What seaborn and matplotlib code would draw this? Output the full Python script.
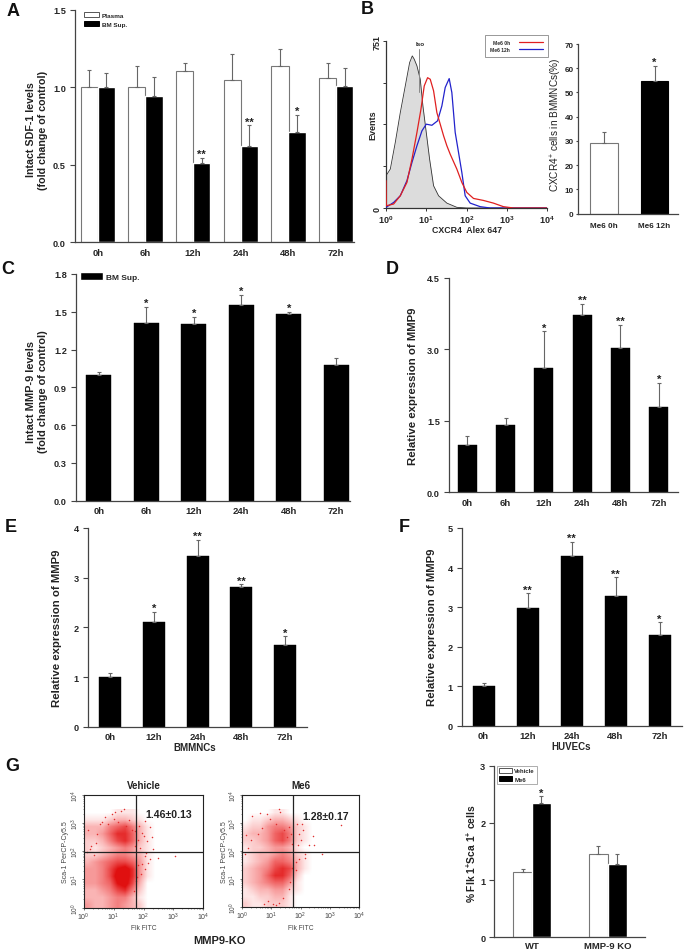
import numpy as np
import pandas as pd
import matplotlib
matplotlib.use('Agg')
import matplotlib.pyplot as plt
from matplotlib.colors import LinearSegmentedColormap
from matplotlib.lines import Line2D
from matplotlib.patches import Patch
import seaborn as sns

# panel A
hours_a = ['0h', '6h', '12h', '24h', '48h', '72h']
plasma = [1.0, 1.005, 1.105, 1.045, 1.14, 1.06]
plasma_sd = [0.11, 0.135, 0.055, 0.17, 0.11, 0.10]
bm_sup = [1.0, 0.945, 0.515, 0.62, 0.715, 1.01]
bm_sup_sd = [0.095, 0.125, 0.03, 0.135, 0.11, 0.115]
stars_a = ['', '', '**', '**', '*', '']

# panel B histogram, log10 of intensity against events
iso_log = [0, .107, .231, .355, .479, .587, .653, .702, .769, .851, .917, 1.0, 1.083, 1.182, 1.306, 1.512, 1.76, 2.008, 4]
iso_events = [145, 175, 295, 429, 549, 654, 684, 669, 639, 579, 459, 340, 220, 100, 55, 22, 3, 0, 0]
red_log = [0, .008, .19, .355, .52, .645, .769, .868, .95, 1.033, 1.099, 1.182, 1.264, 1.347, 1.43, 1.512, 1.595, 1.76, 1.884, 2.008, 2.174, 2.421, 2.669, 2.917, 3.165, 4]
red_events = [123, 10, 18, 55, 115, 220, 340, 444, 549, 586, 579, 527, 429, 377, 325, 280, 242, 175, 115, 70, 43, 34, 22, 6, 0, 0]
blue_log = [0, .19, .355, .52, .645, .769, .893, 1.0, 1.14, 1.281, 1.388, 1.471, 1.57, 1.636, 1.719, 1.802, 1.884, 1.967, 2.091, 2.339, 2.587, 4]
blue_events = [3, 25, 55, 123, 205, 280, 347, 377, 372, 392, 459, 542, 582, 519, 340, 250, 160, 55, 22, 6, 0, 0]

# panel B bars
me6_labels = ['Me6 0h', 'Me6 12h']
me6_values = [29, 54.8]
me6_sd = [4.5, 6.2]

# panel C
mmp_c = [1.0, 1.41, 1.40, 1.555, 1.48, 1.075]
mmp_c_sd = [0.025, 0.13, 0.06, 0.08, 0.02, 0.06]
stars_c = ['', '*', '*', '*', '*', '']

# panel D
mmp_d = [1.0, 1.42, 2.6, 3.73, 3.02, 1.8]
mmp_d_sd = [0.19, 0.15, 0.78, 0.23, 0.5, 0.5]
stars_d = ['', '', '*', '**', '**', '*']

# panels E and F
hours_ef = ['0h', '12h', '24h', '48h', '72h']
mmp_e = [1.0, 2.1, 3.43, 2.82, 1.64]
mmp_e_sd = [0.08, 0.21, 0.33, 0.05, 0.18]
stars_e = ['', '*', '**', '**', '*']
mmp_f = [1.0, 2.97, 4.3, 3.28, 2.3]
mmp_f_sd = [0.07, 0.38, 0.35, 0.48, 0.32]
stars_f = ['', '**', '**', '**', '*']

# panel G flow plots, cell density read per quarter decade, top row first
vehicle_density = [
    [0, 0, 0, 0, 1, 1, 1, 0, 0, 0],
    [1, 1, 1, 2, 3, 3, 2, 1, 0, 0],
    [3, 3, 3, 5, 6, 7, 5, 3, 1, 0],
    [3, 3, 4, 6, 8, 8, 6, 3, 1, 0],
    [2, 2, 3, 5, 7, 8, 6, 3, 1, 0],
    [2, 1, 2, 3, 4, 5, 4, 2, 1, 0],
    [2, 2, 3, 4, 5, 5, 4, 3, 1, 0],
    [3, 4, 5, 6, 7, 7, 6, 4, 1, 0],
    [4, 4, 5, 7, 9, 10, 8, 4, 1, 0],
    [4, 4, 5, 7, 10, 10, 8, 4, 1, 0],
    [4, 4, 5, 6, 9, 10, 7, 3, 0, 0],
    [3, 3, 4, 5, 7, 8, 5, 2, 0, 0],
    [3, 3, 3, 4, 5, 5, 3, 1, 0, 0],
    [4, 3, 3, 4, 5, 4, 3, 2, 0, 0],
]
me6_density = [
    [0, 0, 0, 0, 1, 1, 0, 0, 0, 0],
    [0, 1, 1, 2, 3, 3, 2, 1, 0, 0],
    [1, 2, 2, 4, 5, 5, 4, 2, 1, 0],
    [2, 3, 3, 4, 6, 7, 5, 2, 1, 0],
    [2, 2, 3, 4, 6, 7, 5, 2, 1, 0],
    [1, 2, 2, 3, 4, 4, 3, 1, 0, 0],
    [1, 2, 3, 3, 4, 5, 4, 2, 1, 0],
    [1, 2, 3, 4, 6, 6, 5, 3, 1, 0],
    [2, 3, 4, 5, 7, 8, 7, 3, 1, 0],
    [2, 3, 4, 6, 8, 8, 6, 2, 0, 0],
    [2, 3, 4, 5, 6, 6, 4, 1, 0, 0],
    [1, 2, 3, 3, 4, 4, 2, 1, 0, 0],
    [1, 1, 2, 2, 3, 3, 1, 0, 0, 0],
    [2, 1, 1, 2, 2, 2, 1, 0, 0, 0],
]
vehicle_out_x = [2.05, 2.22, 1.94, 2.11, 1.89, 2.33, 2.05, 2.22, 1.94, 2.05, 2.47, 3.06, 1.85, 2.3, 1.9, 2.15, 2.0, 1.35, 1.05, 2.1,
                 .8, .95, 1.15, 1.25, 1.4, 1.5, 1.6, .6, .7, 1.0, 1.72, 1.7, 1.8, 1.82, 1.78, 1.68, 1.74,
                 .15, .45, .2, .35, .1, .25, .4, .55]
vehicle_out_y = [3.08, 2.84, 2.66, 2.37, 2.13, 2.07, 1.83, 1.72, 1.54, 1.36, 1.75, 1.83, 2.9, 2.5, 1.2, 1.6, 2.55, 3.5, 3.4, 1.95,
                 2.95, 3.3, 3.05, 3.42, 2.9, 3.12, 2.75, 3.05, 3.22, 3.15, 2.7, 2.2, 2.4, 1.5, 1.1, .6, .95,
                 2.75, 2.6, 2.08, 1.85, 1.98, 2.2, 2.3, 2.95]
me6_out_x = [1.89, 2.06, 1.95, 2.44, 3.39, 2.28, 2.47, 2.17, 2.74, 1.83, 1.95, 1.28, 2.0, 1.9, 1.85, 2.1, .35, 2.15,
             .7, .85, 1.15, 1.3, 1.45, .55, .95, 1.55, 1.6, 1.68, 1.7, 1.72, 1.65, 1.62, .3, .15, .6, .2, .1,
             1.05, 1.25, .75, .9, 1.4, 1.15]
me6_out_y = [2.96, 2.96, 2.6, 2.54, 2.93, 2.19, 2.19, 1.87, 1.87, 1.6, 1.72, 3.5, 2.4, 2.2, 1.3, 2.75, 3.25, 1.75,
             2.8, 3.3, 2.95, 3.38, 2.75, 2.6, 3.12, 2.5, 2.85, 2.6, 2.25, 1.4, .9, .65, 2.4, 2.55, 3.35, 2.1, 1.9,
             .08, .12, .1, .2, .3, .05]

# panel G bars
g_groups = ['WT', 'MMP-9 KO']
g_vehicle = [1.15, 1.46]
g_vehicle_sd = [0.04, 0.13]
g_me6 = [2.35, 1.28]
g_me6_sd = [0.12, 0.17]

W, H = 685, 953
LINE = '#444444'
ERR = '#666666'

sns.set_theme(style='ticks')
plt.rcParams['font.family'] = ['Liberation Sans', 'DejaVu Sans']
plt.rcParams['mathtext.default'] = 'regular'
plt.rcParams['axes.linewidth'] = 0.9
plt.rcParams['axes.edgecolor'] = LINE

fig = plt.figure(figsize=(W / 100, H / 100), dpi=100)


def make_ax(l, t, r, b):
    return fig.add_axes([l / W, 1 - b / H, (r - l) / W, (b - t) / H])


def px(x, y):
    return x / W, 1 - y / H


def put_text(x, y, s, **kw):
    kw.setdefault('ha', 'center')
    kw.setdefault('va', 'center')
    fig.text(x / W, 1 - y / H, s, **kw)


def style_bars(ax, ymax, yticks, ylabels, label, label_xy, axis_px, first, step, lab_size=8.2, lab_weight='bold',
               tick_len=3.5, tick_pad=3):
    ax.set_xlim((axis_px[0] - first) / step, (axis_px[1] - first) / step)
    ax.set_ylim(0, ymax)
    ax.set_yticks(yticks)
    ax.set_yticklabels(ylabels, fontsize=6.6, fontweight='bold')
    ax.tick_params(axis='y', length=tick_len, width=0.8, color=LINE, pad=tick_pad)
    ax.tick_params(axis='x', length=0, pad=4)
    for t in ax.get_xticklabels():
        t.set_fontsize(6.8)
        t.set_fontweight('bold')
    ax.set_xlabel('')
    ax.set_ylabel('')
    put_text(label_xy[0], label_xy[1], label, rotation=90,
             fontsize=lab_size, fontweight=lab_weight, linespacing=1.15, ma='center', color='#222222')
    sns.despine(ax=ax)


def add_err(ax, x, values, sd, stars=None, star_size=8):
    ax.errorbar(x, values, yerr=[np.zeros(len(values)), sd], fmt='none', ecolor=ERR,
                elinewidth=0.8, capsize=1.6, capthick=0.8, zorder=1)
    if stars is None:
        return
    for xi, v, e, s in zip(x, values, sd, stars):
        if s:
            ax.annotate(s, (xi, v + e), xytext=(0, -1), textcoords='offset points', ha='center',
                        va='bottom', fontsize=star_size, fontweight='bold', color='#222222')


def single_bars(ax, labels, values, sd, stars, width):
    sns.barplot(x=labels, y=values, color='black', order=labels, width=width, saturation=1,
                edgecolor='black', linewidth=0.3, ax=ax)
    add_err(ax, np.arange(len(labels)), values, sd, stars)


def paired_bars(ax, labels, names, first_vals, first_sd, second_vals, second_sd, stars, width):
    df = pd.DataFrame({'group': labels * 2, 'series': [names[0]] * len(labels) + [names[1]] * len(labels),
                       'value': list(first_vals) + list(second_vals)})
    sns.barplot(data=df, x='group', y='value', hue='series', order=labels, hue_order=names,
                palette=['white', 'black'], width=width, gap=0, saturation=1, legend=False, ax=ax)
    for p in ax.patches[:len(labels)]:
        p.set_edgecolor('#777777')
        p.set_linewidth(0.8)
    x = np.arange(len(labels))
    add_err(ax, x - width / 4, first_vals, first_sd)
    add_err(ax, x + width / 4, second_vals, second_sd, stars)


def small_legend(ax, x, y, names, size=4.6, frame=False, hlen=2.4):
    handles = [Patch(facecolor='white', edgecolor='#555555', linewidth=0.7, label=names[0]),
               Patch(facecolor='black', edgecolor='black', linewidth=0.7, label=names[1])]
    leg = ax.legend(handles=handles, loc='upper left', bbox_to_anchor=px(x, y), bbox_transform=fig.transFigure,
                    frameon=frame, fancybox=False, handlelength=hlen, handleheight=0.9,
                    handletextpad=0.4, labelspacing=0.5, borderpad=0.3, borderaxespad=0,
                    prop={'size': size, 'weight': 'bold'})
    if frame:
        leg.get_frame().set_edgecolor('#888888')
        leg.get_frame().set_linewidth(0.6)


# panel letters
for letter, lx, ly in [('A', 13, 11), ('B', 367, 10), ('C', 8, 270), ('D', 392, 269),
                       ('E', 11, 528), ('F', 404, 528), ('G', 12, 767)]:
    put_text(lx, ly, letter, fontsize=13, fontweight='bold', color='#111111')

# A
ax = make_ax(75, 11, 354, 243.3)
paired_bars(ax, hours_a, ['Plasma', 'BM Sup.'], plasma, plasma_sd, bm_sup, bm_sup_sd, stars_a, 0.72)
style_bars(ax, 1.5, [0, .5, 1, 1.5], ['0.0', '0.5', '1.0', '1.5'],
           'Intact SDF-1 levels\n(fold change of control)', (37, 130), (75, 354), 97.7, 47.7, lab_size=7.7)
small_legend(ax, 82, 11, ['Plasma', 'BM Sup.'])

# B histogram
ax = make_ax(386, 42, 547, 209)
iso_x = 10.0 ** np.array(iso_log)
ax.fill_between(iso_x, iso_events, color='#dcdcdc', linewidth=0, zorder=1)
sns.lineplot(x=iso_x, y=iso_events, color='#333333', linewidth=0.6, estimator=None, sort=False, ax=ax, zorder=2)
sns.lineplot(x=10.0 ** np.array(blue_log), y=blue_events, color='#2222cc', linewidth=0.9, estimator=None,
             sort=False, ax=ax, zorder=3)
sns.lineplot(x=10.0 ** np.array(red_log), y=red_events, color='#e02020', linewidth=0.9, estimator=None,
             sort=False, ax=ax, zorder=4)
ax.set_xscale('log')
ax.set_xlim(1, 1e4)
ax.set_ylim(0, 751)
ax.set_yticks([0, 188, 376, 563, 751])
ax.set_yticklabels(['0', '', '', '', '751'], rotation=90, va='center', fontsize=6.5, fontweight='bold')
ax.set_xticks([1, 10, 100, 1000, 10000])
ax.set_xticklabels(['10$^{%d}$' % n for n in range(5)], fontsize=6.5, fontweight='bold')
ax.tick_params(axis='both', which='major', length=2.5, width=0.7, color='#333333', pad=1)
ax.tick_params(axis='x', which='minor', length=1.4, width=0.5, color='#333333')
ax.spines[['left', 'bottom']].set_color('#333333')
sns.despine(ax=ax)
ax.plot([6.6, 6.6], [520, 715], color='#888888', linewidth=0.7)
ax.text(6.9, 742, 'Iso', fontsize=4.5, fontweight='bold', ha='center', va='center')
handles = [Line2D([], [], color='#e02020', linewidth=0.9, label='Me6 0h'),
           Line2D([], [], color='#2222cc', linewidth=0.9, label='Me6 12h')]
leg = ax.legend(handles=handles, loc='upper left', bbox_to_anchor=px(485, 36), bbox_transform=fig.transFigure,
                frameon=True, fancybox=False, markerfirst=False, handlelength=4.7, handletextpad=1.9,
                labelspacing=0.35, borderpad=1.0, borderaxespad=0, prop={'size': 3.6, 'weight': 'bold'})
leg.get_frame().set_edgecolor('#888888')
leg.get_frame().set_linewidth(0.6)
leg.get_frame().set_alpha(1)
put_text(372.5, 125, 'Events', rotation=90, fontsize=6.5, fontweight='bold')
put_text(467, 231, 'CXCR4  Alex 647', fontsize=6.3, fontweight='bold')

# B bars
ax = make_ax(578, 45, 678, 214.7)
df_b = pd.DataFrame({'label': me6_labels, 'value': me6_values})
sns.barplot(data=df_b, x='label', y='value', hue='label', palette=['white', 'black'], legend=False,
            width=0.55, saturation=1, edgecolor='#777777', linewidth=0.8, ax=ax)
ax.patches[1].set_edgecolor('black')
add_err(ax, np.arange(2), me6_values, me6_sd, ['', '*'])
style_bars(ax, 70, range(0, 71, 10), [str(v) for v in range(0, 71, 10)],
           'CXCR4$^{+}$ cells in BMMNCs(%)', (556, 125), (578, 678), 604, 50.5, lab_size=7.2, lab_weight='normal',
           tick_len=1.6, tick_pad=1.5)
for t in ax.get_yticklabels():
    t.set_fontsize(5.8)
for t in ax.get_xticklabels():
    t.set_fontsize(5.9)
ax.tick_params(axis='x', pad=6)

# C
ax = make_ax(76, 275, 350, 501.7)
single_bars(ax, hours_a, mmp_c, mmp_c_sd, stars_c, 0.52)
style_bars(ax, 1.8, [0, .3, .6, .9, 1.2, 1.5, 1.8], ['0.0', '0.3', '0.6', '0.9', '1.2', '1.5', '1.8'],
           'Intact MMP-9 levels\n(fold change of control)', (37, 392), (76, 350), 98.8, 47.5, lab_size=7.9)
leg = ax.legend(handles=[Patch(facecolor='black', label='BM Sup.')], loc='upper left', bbox_to_anchor=px(80, 273),
                bbox_transform=fig.transFigure, frameon=False, handlelength=2.7, handleheight=1.1, handletextpad=0.4,
                borderpad=0, borderaxespad=0, prop={'size': 6, 'weight': 'bold'})

# D
ax = make_ax(449, 279, 678, 493.3)
single_bars(ax, hours_a, mmp_d, mmp_d_sd, stars_d, 0.5)
style_bars(ax, 4.5, [0, 1.5, 3, 4.5], ['0.0', '1.5', '3.0', '4.5'], 'Relative expression of MMP9', (413, 386),
           (449, 678), 467.2, 38.3)

# E
ax = make_ax(88, 529, 307, 727.7)
single_bars(ax, hours_ef, mmp_e, mmp_e_sd, stars_e, 0.5)
style_bars(ax, 4, range(5), [str(v) for v in range(5)], 'Relative expression of MMP9', (57, 628),
           (88, 307), 110.3, 43.7)
put_text(195, 748, 'BMMNCs', fontsize=7, fontweight='bold')

# F
ax = make_ax(461.7, 529, 681.7, 726.7)
single_bars(ax, hours_ef, mmp_f, mmp_f_sd, stars_f, 0.5)
style_bars(ax, 5, range(6), [str(v) for v in range(6)], 'Relative expression of MMP9', (432, 627),
           (461.7, 681.7), 483.5, 44)
put_text(571, 747, 'HUVECs', fontsize=7, fontweight='bold')

# G flow plots
flow_cmap = LinearSegmentedColormap.from_list('flow', ['white', '#fab4b4', '#f06464', '#e01010'])
minor_pos = [k + np.log10(m) for k in range(4) for m in range(2, 10)]


def flow_panel(box, density, out_x, out_y, gate_x, gate_y, title, pct, pct_xy):
    ax = make_ax(*box)
    ax.imshow(np.array(density)[::-1], origin='lower', extent=[0, 2.5, 0, 3.5], aspect='auto', cmap=flow_cmap,
              vmin=0, vmax=9, interpolation='bilinear', zorder=1)
    sns.scatterplot(x=out_x, y=out_y, color='#e03030', s=1.2, linewidth=0, ax=ax, zorder=2)
    ax.set_xlim(0, 4)
    ax.set_ylim(0, 4)
    ax.axvline(gate_x, color='#222222', linewidth=0.9, zorder=3)
    ax.axhline(gate_y, color='#222222', linewidth=0.9, zorder=3)
    ax.set_xticks(range(5))
    ax.set_yticks(range(5))
    ax.set_xticklabels(['10$^{%d}$' % n for n in range(5)], fontsize=5, color='#444444')
    ax.set_yticklabels(['10$^{%d}$' % n for n in range(5)], fontsize=4.8, rotation=90, va='center', color='#444444')
    ax.set_xticks(minor_pos, minor=True)
    ax.set_yticks(minor_pos, minor=True)
    ax.tick_params(axis='both', which='major', length=1.6, width=0.5, color='#444444', pad=0.4)
    ax.tick_params(axis='both', which='minor', length=1.0, width=0.4, color='#444444')
    ax.spines[:].set_color('#222222')
    ax.spines[:].set_linewidth(0.8)
    ax.set_xlabel('Flk FITC', fontsize=4.8, color='#444444')
    ax.set_ylabel('Sca-1 PerCP-Cy5.5', fontsize=5, color='#444444')
    ax.xaxis.set_label_coords(0.5, -(925 - box[3]) / (box[3] - box[1]))
    ax.yaxis.set_label_coords(-14.5 / (box[2] - box[0]), 0.5)
    ax.set_title(title, fontsize=7, fontweight='bold', pad=5, color='#222222')
    put_text(pct_xy[0], pct_xy[1], pct, fontsize=7.6, fontweight='bold', color='#222222')


flow_panel((83.7, 795.7, 203.3, 908.7), vehicle_density, vehicle_out_x, vehicle_out_y, 1.76, 1.96,
           'Vehicle', '1.46\u00b10.13', (169, 815))
flow_panel((242, 795.7, 359, 907.7), me6_density, me6_out_x, me6_out_y, 1.755, 1.96,
           'Me6', '1.28\u00b10.17', (326, 817))
put_text(219, 941, 'MMP9-KO', fontsize=8, fontweight='bold', color='#222222')

# G bars
ax = make_ax(494.3, 766.7, 645, 938.3)
paired_bars(ax, g_groups, ['Vehicle', 'Me6'], g_vehicle, g_vehicle_sd, g_me6, g_me6_sd, ['*', ''], 0.5)
style_bars(ax, 3, [0, 1, 2, 3], ['0', '1', '2', '3'], '% Flk 1$^{+}$Sca 1$^{+}$ cells', (471.5, 854),
           (494.3, 645), 532, 75.7, lab_size=7.4)
ax.tick_params(axis='x', pad=3)
small_legend(ax, 497, 767, ['Vehicle', 'Me6'], size=4.3, frame=True, hlen=2.2)

fig.savefig('out.png', dpi=100)
